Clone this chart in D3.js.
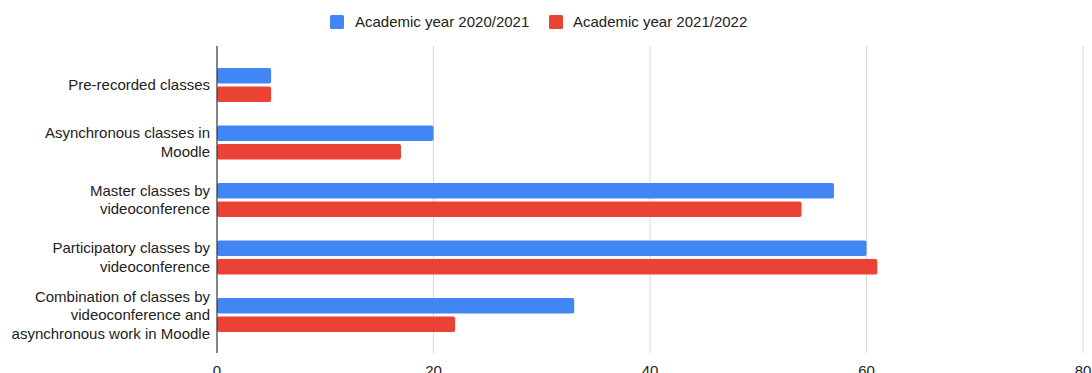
<!DOCTYPE html>
<html><head><meta charset="utf-8">
<script src="https://cdn.jsdelivr.net/npm/d3@7"></script>
<style>body{margin:0;background:#fff;}svg{display:block;font-family:"Liberation Sans",Arial,sans-serif;}</style>
</head><body>
<svg id="c" width="1092" height="373"></svg>
<script>
const categories = [
  ["Pre-recorded classes"],
  ["Asynchronous classes in", "Moodle"],
  ["Master classes by", "videoconference"],
  ["Participatory classes by", "videoconference"],
  ["Combination of classes by", "videoconference and", "asynchronous work in Moodle"]
];
const seriesNames = ["Academic year 2020/2021", "Academic year 2021/2022"];
const values2020 = [5, 20, 57, 60, 33];
const values2021 = [5, 17, 54, 61, 22];
const xTicks = [0, 20, 40, 60, 80];
const colors = ["#4285F4", "#EA4335"];

const svg = d3.select("#c");
const x = d3.scaleLinear().domain([0, 80]).range([217, 1083]);
const keys = categories.map(c => c.join(" "));
const y = d3.scaleBand().domain(keys).range([56.25, 343.75]).paddingInner(0.41).paddingOuter(0.205);
const barH = 15.5, gap = 3;

// gridlines
svg.append("g").selectAll("line").data(xTicks.filter(t => t > 0)).join("line")
  .attr("x1", d => x(d)).attr("x2", d => x(d)).attr("y1", 46).attr("y2", 353)
  .attr("stroke", "#d9d9d9").attr("stroke-width", 1);

// tick labels
svg.append("g").selectAll("text").data(xTicks).join("text")
  .attr("x", d => x(d)).attr("y", 376).attr("text-anchor", "middle")
  .attr("font-size", 15).attr("fill", "#222").text(d => d);

// bars
const series = [values2020, values2021];
series.forEach((vals, si) => {
  svg.append("g").selectAll("rect").data(vals).join("rect")
    .attr("x", x(0)).attr("y", (d, i) => y(keys[i]) + si * (barH + gap))
    .attr("width", d => x(d) - x(0)).attr("height", barH)
    .attr("rx", 2).attr("fill", colors[si]);
});

// zero axis line
svg.append("line").attr("x1", x(0)).attr("x2", x(0)).attr("y1", 46).attr("y2", 353)
  .attr("stroke", "#333").attr("stroke-width", 1.2);

// category labels
const lh = 18.5;
categories.forEach((lines, i) => {
  const cy = y(keys[i]) + y.bandwidth() / 2;
  const t = svg.append("text").attr("text-anchor", "end").attr("font-size", 15).attr("fill", "#222");
  lines.forEach((ln, j) => {
    t.append("tspan").attr("x", 210)
      .attr("y", cy + (j - (lines.length - 1) / 2) * lh + 5).text(ln);
  });
});

// legend
const legend = [{x: 330, tx: 355}, {x: 549, tx: 573}];
seriesNames.forEach((n, i) => {
  svg.append("rect").attr("x", legend[i].x).attr("y", 15).attr("width", 14).attr("height", 14)
    .attr("rx", 1.5).attr("fill", colors[i]);
  svg.append("text").attr("x", legend[i].tx).attr("y", 27).attr("font-size", 15)
    .attr("fill", "#222").text(n);
});
</script>
</body></html>
